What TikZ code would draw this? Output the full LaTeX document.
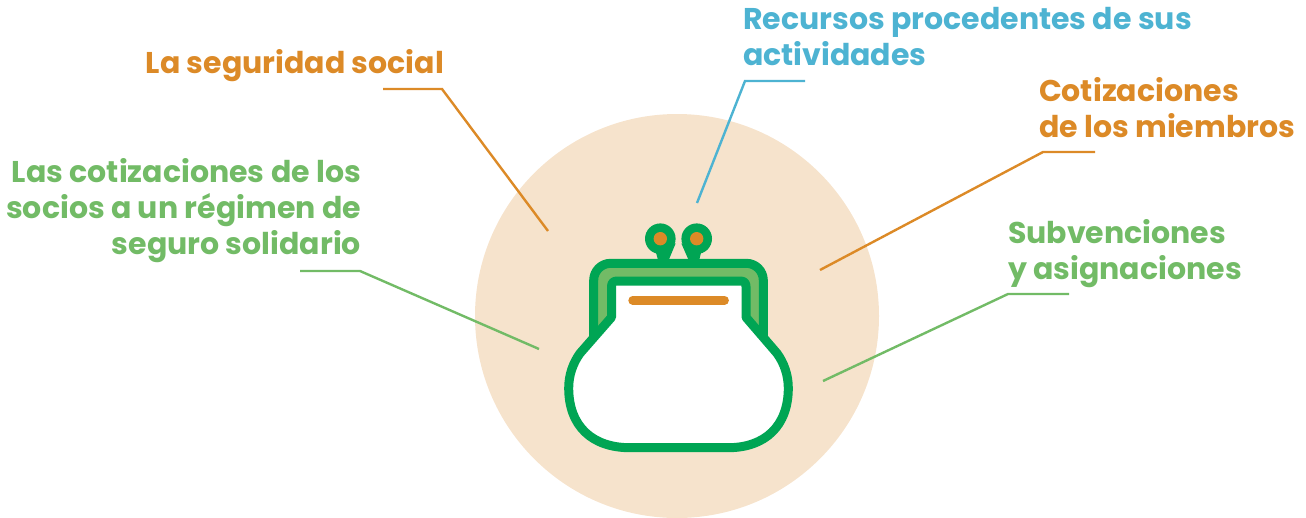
\documentclass[tikz,border=0pt]{standalone}
\usepackage{fontspec}
\setmainfont{Poppins}[BoldFont={Poppins Bold}]
\definecolor{cOrange}{HTML}{DC8A27}
\definecolor{cBlue}{HTML}{4DB3D2}
\definecolor{cLight}{HTML}{72BB66}
\definecolor{cDark}{HTML}{00A554}
\definecolor{cBack}{HTML}{F6E3CC}
\tikzset{
  lbl/.style={inner sep=0pt,outer sep=0pt,font=\fontsize{30}{36}\selectfont\bfseries},
  leader/.style={line width=2.4pt,line join=miter},
  purse/.style={draw=cDark,line width=9pt,line join=round},
}
\begin{document}
\begin{tikzpicture}[x=1pt,y=-1pt]
\useasboundingbox (0,0) rectangle (1306,517);
\fill[cBack] (677,316) circle [radius=202];
% connector points
\coordinate (a1) at (383,89); \coordinate (a2) at (442,89); \coordinate (a3) at (548,231);
\coordinate (b1) at (805,81); \coordinate (b2) at (745,81); \coordinate (b3) at (697,203);
\coordinate (c1) at (1095,152); \coordinate (c2) at (1043,152); \coordinate (c3) at (820,270);
\coordinate (d1) at (1069,294); \coordinate (d2) at (1008,294); \coordinate (d3) at (823,381);
\coordinate (e1) at (300,271); \coordinate (e2) at (360,271); \coordinate (e3) at (539,349);
\draw[leader,cOrange] (a1) -- (a2) -- (a3);
\draw[leader,cBlue] (b1) -- (b2) -- (b3);
\draw[leader,cOrange] (c1) -- (c2) -- (c3);
\draw[leader,cLight] (d1) -- (d2) -- (d3);
\draw[leader,cLight] (e1) -- (e2) -- (e3);
% labels
\node[lbl,text=cOrange,anchor=base east] (la) at (444,73) {La seguridad social};
\node[lbl,text=cBlue,anchor=base west,align=left] (lb) at (743,65.5) {Recursos procedentes de sus\\actividades};
\node[lbl,text=cOrange,anchor=base west,align=left] (lc) at (1039,137.5) {Cotizaciones\\de los miembros};
\node[lbl,text=cLight,anchor=base west,align=left] (ld) at (1008,279.5) {Subvenciones\\y asignaciones};
\node[lbl,text=cLight,anchor=base east,align=right] (le) at (361,254.5) {Las cotizaciones de los\\socios a un régimen de\\seguro solidario};
% clasps
\fill[cDark] (675.7,243.3) -- (668.3,261) -- (658.3,261) -- (656,252.7) -- cycle;
\fill[cDark] (681.3,243.3) -- (689,261) -- (699,261) -- (701,252.7) -- cycle;
\fill[cDark] (660.3,238.7) circle [radius=15.3];
\fill[cDark] (696.7,238.7) circle [radius=15.3];
\fill[cOrange] (660.3,238.7) circle [radius=6.7];
\fill[cOrange] (696.7,238.7) circle [radius=6.7];
% frame
\draw[purse,fill=cLight,rounded corners=17pt] (593.7,345) -- (593.7,263.3) -- (763.3,263.3) -- (763.3,345);
% body
\draw[purse,fill=white]
  (611.5,317.3) -- (580,353.3)
  .. controls (573,363) and (568.7,375) .. (568.7,388)
  .. controls (568.7,426) and (592,447.7) .. (630,447.7)
  -- (728,447.7)
  .. controls (765,447.7) and (788.3,426) .. (788.3,388)
  .. controls (788.3,375) and (784,363) .. (777,353.3)
  -- (746,317.3)
  -- (746,286.5) .. controls (746,283) and (744,281) .. (740.5,281)
  -- (617,281) .. controls (613.5,281) and (611.5,283) .. (611.5,286.5)
  -- cycle;
% slot
\draw[cOrange,line width=8.8pt,line cap=round] (632.7,300.3) -- (724.5,300.3);
\end{tikzpicture}
\end{document}
